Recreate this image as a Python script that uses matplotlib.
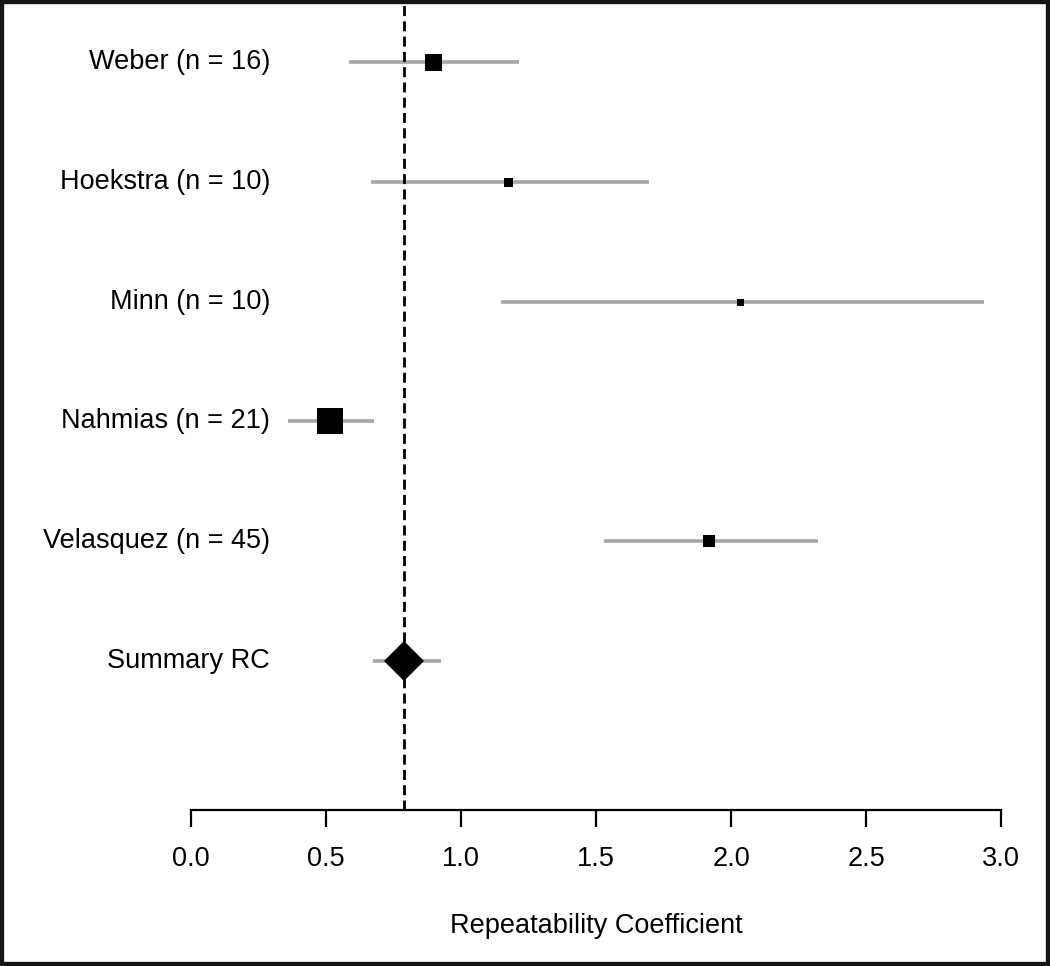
import matplotlib
matplotlib.use('Agg')
import matplotlib.pyplot as plt
from matplotlib.patches import Rectangle

# study data (repeatability coefficient with 95% CI)
studies = ["Weber (n = 16)", "Hoekstra (n = 10)", "Minn (n = 10)",
           "Nahmias (n = 21)", "Velasquez (n = 45)"]
rc = [0.897, 1.175, 2.035, 0.513, 1.920]
ci_low = [0.586, 0.667, 1.149, 0.360, 1.528]
ci_high = [1.216, 1.698, 2.937, 0.679, 2.321]
weights = [17, 9, 7, 27, 12]   # relative box sizes

summary_label = "Summary RC"
summary_rc = 0.790
summary_low = 0.675
summary_high = 0.927

plt.rcParams['font.family'] = ['Liberation Sans', 'DejaVu Sans']
FS = 19.5

W, H = 1050, 966
fig = plt.figure(figsize=(W / 100, H / 100), dpi=100)
ax_bottom_px = 810
ax = fig.add_axes([0, 1 - ax_bottom_px / H, 1, ax_bottom_px / H])

# pixel-to-data layout
x0_px, x3_px = 191, 1001
ppu = (x3_px - x0_px) / 3.0
ax.set_xlim(-x0_px / ppu, (W - x0_px) / ppu)
row_top_px, row_bot_px = 62, 661
n_rows = len(studies) + 1
ypu = (row_bot_px - row_top_px) / (n_rows - 1)
ax.set_ylim(1 - (ax_bottom_px - row_bot_px) / ypu, n_rows + row_top_px / ypu)

ypos = list(range(n_rows, 1, -1))

for y, est, lo, hi, w, name in zip(ypos, rc, ci_low, ci_high, weights, studies):
    ax.plot([lo, hi], [y, y], color='#a6a6a6', lw=2.6, solid_capstyle='butt', zorder=2)
    ax.plot(est, y, marker='s', color='black', markersize=w * 0.72, mew=0, zorder=3)
    ax.text(270 / W, y, name, transform=ax.get_yaxis_transform(), ha='right',
            va='center', fontsize=FS)

# summary
ax.plot([summary_low, summary_high], [1, 1], color='#a6a6a6', lw=2.6,
        solid_capstyle='butt', zorder=2)
ax.plot(summary_rc, 1, marker='D', color='black', markersize=40 / 1.414 * 0.72,
        mew=0, zorder=4)
ax.text(270 / W, 1, summary_label, transform=ax.get_yaxis_transform(), ha='right',
        va='center', fontsize=FS)

ax.axvline(summary_rc, color='black', lw=2.0, linestyle=(0, (3.6, 1.9)), zorder=3)

for side in ['left', 'top', 'right']:
    ax.spines[side].set_visible(False)
ax.spines['bottom'].set_bounds(0, 3)
ax.spines['bottom'].set_linewidth(1.6)
ax.set_yticks([])
ticks = [0.0, 0.5, 1.0, 1.5, 2.0, 2.5, 3.0]
ax.set_xticks(ticks)
ax.set_xticklabels([f"{t:.1f}" for t in ticks], fontsize=FS)
ax.tick_params(axis='x', length=12, width=1.6, pad=14)
ax.set_xlabel("Repeatability Coefficient", fontsize=FS)
ax.xaxis.set_label_coords((x0_px + x3_px) / 2 / W, -(926 - ax_bottom_px) / ax_bottom_px)
ax.xaxis.label.set_va('center')
ax.patch.set_visible(False)

fig.add_artist(Rectangle((0, 0), 1, 1, transform=fig.transFigure, fill=False,
                         edgecolor='#151515', lw=6))

fig.savefig('out.png', dpi=100)
